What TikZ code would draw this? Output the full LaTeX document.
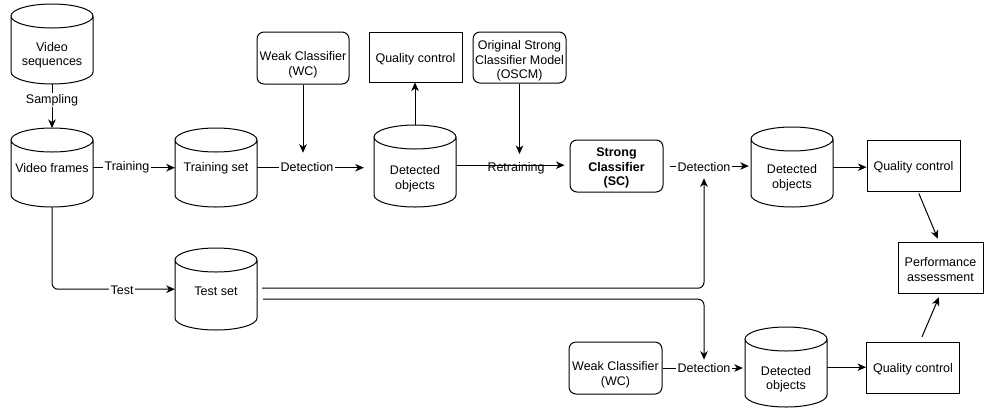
\documentclass[tikz,border=0pt]{standalone}
\usepackage{fontspec}
\setmainfont{Liberation Sans}
\usetikzlibrary{arrows.meta,backgrounds}
\newcommand\mycyl[4]{%
  \node[cylbox, minimum height={(#4)-(#3)}] (#1) at (#2,#3) {};
  \path[cylline] ({#2-41},{#3+12}) -- ({#2-41},{#4-12})
    arc[start angle=180,end angle=360,x radius=41pt,y radius=12pt]
    -- ({#2+41},{#3+12})
    arc[start angle=0,end angle=180,x radius=41pt,y radius=12pt]
    arc[start angle=180,end angle=360,x radius=41pt,y radius=12pt];
}
\begin{document}
\begin{tikzpicture}[x=1pt,y=-1pt,
  every node/.style={font=\fontsize{12.5}{14.5}\selectfont, align=center, inner sep=0pt},
  lw/.style={line width=1pt},
  arr/.style={lw, -{Stealth[length=8.5pt,width=7.5pt,inset=2.5pt]}},
  rbox/.style={draw, lw, rounded corners=7pt, minimum width=93pt, minimum height=51pt},
  sbox/.style={draw, lw, minimum width=93pt, minimum height=51pt},
  elab/.style={fill=white, inner xsep=1.5pt, inner ysep=1pt},
  cylbox/.style={minimum width=82pt, inner sep=0pt, anchor=north},
  cylline/.style={draw, lw, fill=white}]
\useasboundingbox (0,0) rectangle (984,408);

% cylinders
\mycyl{vseq}{52}{4}{84}
\mycyl{vfr}{52}{128}{207}
\mycyl{trs}{216}{128}{207}
\mycyl{do1}{415}{125}{207}
\mycyl{do2}{792}{127}{207}
\mycyl{tes}{216}{248}{330}
\mycyl{do3}{786}{327}{407}

\node (vseqT) at (52,55.5) {Video\\sequences};
\node (vfrT) at (52,168) {Video frames};
\node (trsT) at (216,168) {Training set};
\node (do1T) at (415,179) {Detected\\objects};
\node (do2T) at (792,178) {Detected\\objects};
\node (tesT) at (216,291) {Test set};
\node (do3T) at (786,379.5) {Detected\\objects};

% boxes
\node[rbox, minimum width=92pt, minimum height=52pt] (wc1) at (303,58) {};
\node (wc1T) at (303,65) {Weak Classifier\\(WC)};
\node[sbox, minimum height=50pt] (qc1) at (415.5,57) {};
\node (qc1T) at (415.5,59.5) {Quality control};
\node[rbox] (oscm) at (519.5,57.5) {};
\node (oscmT) at (519.5,61) {Original Strong\\Classifier Model\\(OSCM)};
\node[rbox, minimum height=52pt] (sc) at (616.5,166) {};
\node[font=\fontsize{12.5}{14.5}\selectfont\bfseries] (scT) at (616.5,168) {Strong\\Classifier\\(SC)};
\node[sbox] (qc2) at (913.5,165.5) {};
\node (qc2T) at (913.5,167) {Quality control};
\node[sbox, minimum width=85pt] (pa) at (940.5,267.5) {};
\node (paT) at (940.5,269.5) {Performance\\assessment};
\node[rbox, minimum height=52pt] (wc2) at (615.5,368) {};
\node (wc2T) at (615.5,375) {Weak Classifier\\(WC)};
\node[sbox] (qc3) at (913,367.5) {};
\node (qc3T) at (913,369) {Quality control};

% edge labels
\node[elab] (samp) at (52,100) {Sampling};
\node[elab] (trn) at (127,167) {Training};
\node[elab] (det1) at (307,167) {Detection};
\node (retr) at (516,168) {Retraining};
\node[elab] (det2) at (704,167) {Detection};
\node[elab] (tst) at (122,290) {Test};
\node[elab] (det3) at (704,368) {Detection};

\begin{pgfonlayer}{background}
\draw[arr] (vseq.south) -- (vfr.north);
\draw[arr] (vfr.east) -- (trs.west);
\draw[arr, shorten >=10pt] (trs.east) -- (trs.east -| do1.west);
\draw[arr, shorten >=8.5pt] (wc1.south) -- (wc1.south |- det1.north);
\draw[arr] (do1.north) -- (do1.north |- qc1.south);
\draw[arr, shorten >=8pt] (oscm.south) -- (oscm.south |- retr.north);
\draw[arr, shorten >=5pt] ([yshift=1pt]do1.east) -- ([yshift=1pt]do1.east -| sc.west);
\draw[arr, shorten <=6pt, shorten >=2pt] (sc.east) -- (sc.east -| do2.west);
\draw[arr] (do2.east) -- (do2.east -| qc2.west);
\draw[arr, shorten <=2pt, shorten >=3pt] ([xshift=4.5pt]qc2.south) -- ([xshift=-1.5pt]pa.north);
\draw[arr, shorten <=5pt, shorten >=4pt] ([xshift=7pt]qc3.north) -- (pa.south);
\draw[arr, rounded corners=6pt] (vfr.south) |- (tes.west);
\draw[arr, rounded corners=6pt, shorten >=5.5pt] ([xshift=5pt,yshift=1pt]tes.east) -| (det2.south);
\draw[arr, rounded corners=6pt, shorten >=2.5pt] ([xshift=6pt,yshift=-10pt]tes.east) -| (det3.north);
\draw[arr, shorten >=2pt] (wc2.east) -- (wc2.east -| do3.west);
\draw[arr] (do3.east) -- (do3.east -| qc3.west);
\end{pgfonlayer}
\end{tikzpicture}
\end{document}
